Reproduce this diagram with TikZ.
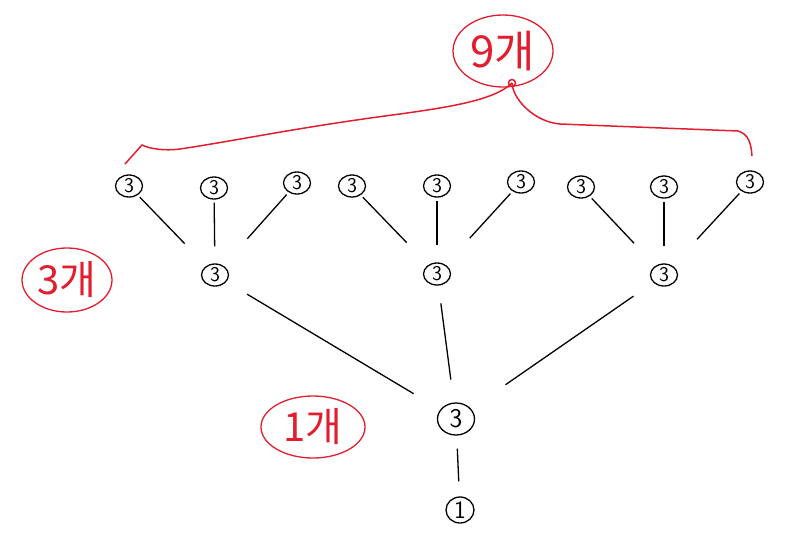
\documentclass[tikz,border=0pt]{standalone}
\usepackage{fontspec}
\newfontfamily\kr{Noto Sans CJK KR}
\usetikzlibrary{positioning,shapes.geometric}
\definecolor{pen}{RGB}{226,30,46}

\begin{document}
\begin{tikzpicture}[x=1pt,y=-1pt,
    line width=1.3pt,
    num/.style={ellipse,draw,inner sep=0pt,minimum width=27pt,minimum height=22pt,
        font=\sffamily\fontsize{21}{21}\selectfont},
    tally/.style={ellipse,draw=pen,text=pen,inner sep=0pt,
        font=\kr\fontsize{40}{40}\selectfont},
    twig/.style={shorten <=3pt,shorten >=31pt},
    branch/.style={shorten <=24pt,shorten >=31pt}]
    \useasboundingbox (0,0) rectangle (800,536);
    % top row
    \node[num] (a1) at (129,186) {3};
    \node[num] (a2) at (214,188) {3};
    \node[num] (a3) at (297,183) {3};
    \node[num] (a4) at (352,186) {3};
    \node[num] (a5) at (437,186) {3};
    \node[num] (a6) at (521,182) {3};
    \node[num] (a7) at (581,187) {3};
    \node[num] (a8) at (664,187) {3};
    \node[num] (a9) at (750,182) {3};
    % middle row
    \node[num] (b1) at (215,275) {3};
    \node[num] (b2) at (437,274) {3};
    \node[num] (b3) at (664,275) {3};
    \node[num,minimum width=37pt,minimum height=32pt,font=\sffamily\fontsize{27}{27}\selectfont] (c) at (456,419) {3};
    \node[num,minimum width=28pt,minimum height=26pt,font=\sffamily\fontsize{25}{25}\selectfont] (r) at (460,510) {1};

    \draw[twig] (a1) -- (b1);
    \draw[twig,shorten >=17pt] (a2) -- (b1);
    \draw[twig,shorten >=36pt] (a3) -- (b1);
    \draw[twig] (a4) -- (b2);
    \draw[twig,shorten >=17pt] (a5) -- (b2);
    \draw[twig,shorten >=36pt] (a6) -- (b2);
    \draw[twig] (a7) -- (b3);
    \draw[twig,shorten >=17pt] (a8) -- (b3);
    \draw[twig,shorten >=36pt] (a9) -- (b3);
    \draw[branch] (b1) -- (c);
    \draw[branch,shorten <=18pt,shorten >=23pt] (b2) -- (c);
    \draw[branch,shorten >=42pt] (b3) -- (c);
    \draw[shorten <=13pt,shorten >=15pt] (c) -- (r);

    % red counts
    \node[tally,minimum width=100pt,minimum height=72pt,font=\kr\fontsize{44}{44}\selectfont] (nine) at (503,51) {9개};
    \node[tally,minimum width=90pt,minimum height=64pt] (three) at (67,280) {3개};
    \node[tally,minimum width=104pt,minimum height=62pt] (one) at (313,427) {1개};
    \coordinate (knot) at (512,83);
    \coordinate (left end) at (125,164);
    \coordinate (right end) at (752,156);
    \draw[pen,line width=1.5pt] (knot) circle (3.5pt);
    \draw[pen,line width=1.5pt] (left end) -- (142,145)
        .. controls (150,149) and (165,151) .. (180,149)
        .. controls (240,140) and (300,127) .. (400,114)
        .. controls (450,107) and (495,100) .. (knot);
    \draw[pen,line width=1.5pt] (knot) .. controls (513,100) and (535,122) .. (560,124)
        -- (738,131) .. controls (748,134) and (751,142) .. (right end);
\end{tikzpicture}
\end{document}
